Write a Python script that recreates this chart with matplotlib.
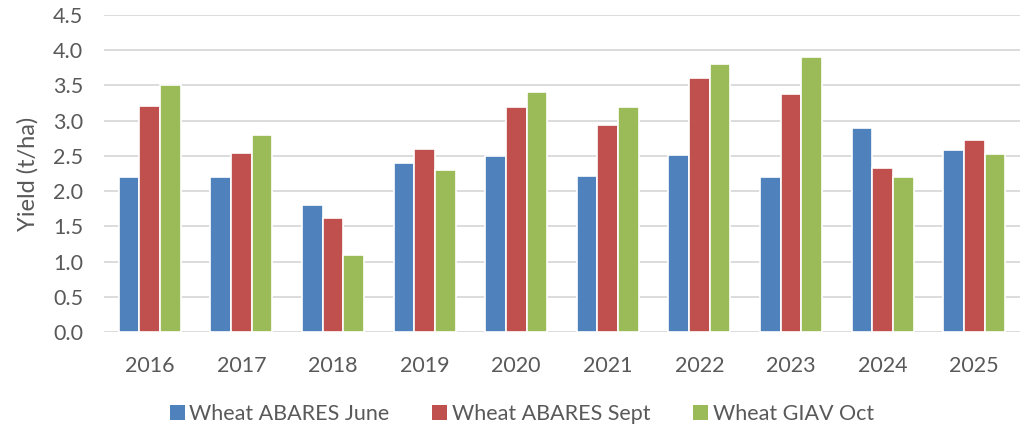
import numpy as np
import matplotlib.pyplot as plt
from matplotlib.patches import Patch

# data
years = ["2016", "2017", "2018", "2019", "2020", "2021", "2022", "2023", "2024", "2025"]
abares_june = [2.20, 2.20, 1.80, 2.40, 2.50, 2.22, 2.51, 2.20, 2.90, 2.59]
abares_sept = [3.21, 2.54, 1.62, 2.60, 3.20, 2.94, 3.60, 3.38, 2.33, 2.72]
giav_oct = [3.50, 2.80, 1.10, 2.30, 3.40, 3.20, 3.80, 3.90, 2.20, 2.52]

series = [
    ("Wheat ABARES June", abares_june, "#4F81BD"),
    ("Wheat ABARES Sept", abares_sept, "#C0504D"),
    ("Wheat GIAV Oct", giav_oct, "#9BBB59"),
]

plt.rcParams["font.family"] = ["Lato", "DejaVu Sans"]
txt = "#595959"

fig = plt.figure(figsize=(10.23, 4.30), dpi=100)
ax = fig.add_axes([104 / 1023, 1 - 332 / 430, 916 / 1023, 317 / 430])

x = np.arange(len(years))
step = 0.225
for i, (name, vals, col) in enumerate(series):
    ax.bar(x + (i - 1) * step, vals, width=step, color=col,
           edgecolor="white", linewidth=1.2, zorder=3)

ax.set_xlim(-0.5, len(years) - 0.5)
ax.set_ylim(0, 4.5)
ax.set_yticks(np.arange(0, 4.51, 0.5))
ax.set_yticklabels([f"{v:.1f}" for v in np.arange(0, 4.51, 0.5)])
ax.set_xticks(x)
ax.set_xticklabels(years)
ax.grid(axis="y", color="#d9d9d9", linewidth=1.3, zorder=0)
ax.tick_params(axis="both", length=0, labelsize=15.5, colors=txt)
ax.tick_params(axis="x", pad=17)
ax.tick_params(axis="y", pad=15)
for s in ax.spines.values():
    s.set_visible(False)
ax.set_ylabel("Yield (t/ha)", fontsize=17, color=txt, labelpad=10)

handles = [Patch(facecolor=c, label=n) for n, _, c in series]
fig.legend(handles=handles, loc="center", bbox_to_anchor=(0.51, 0.037),
           ncol=3, frameon=False, fontsize=15.5, labelcolor=txt,
           handlelength=0.7, handleheight=0.7, handletextpad=0.2,
           columnspacing=2.0)

fig.savefig("out.png", dpi=100)
